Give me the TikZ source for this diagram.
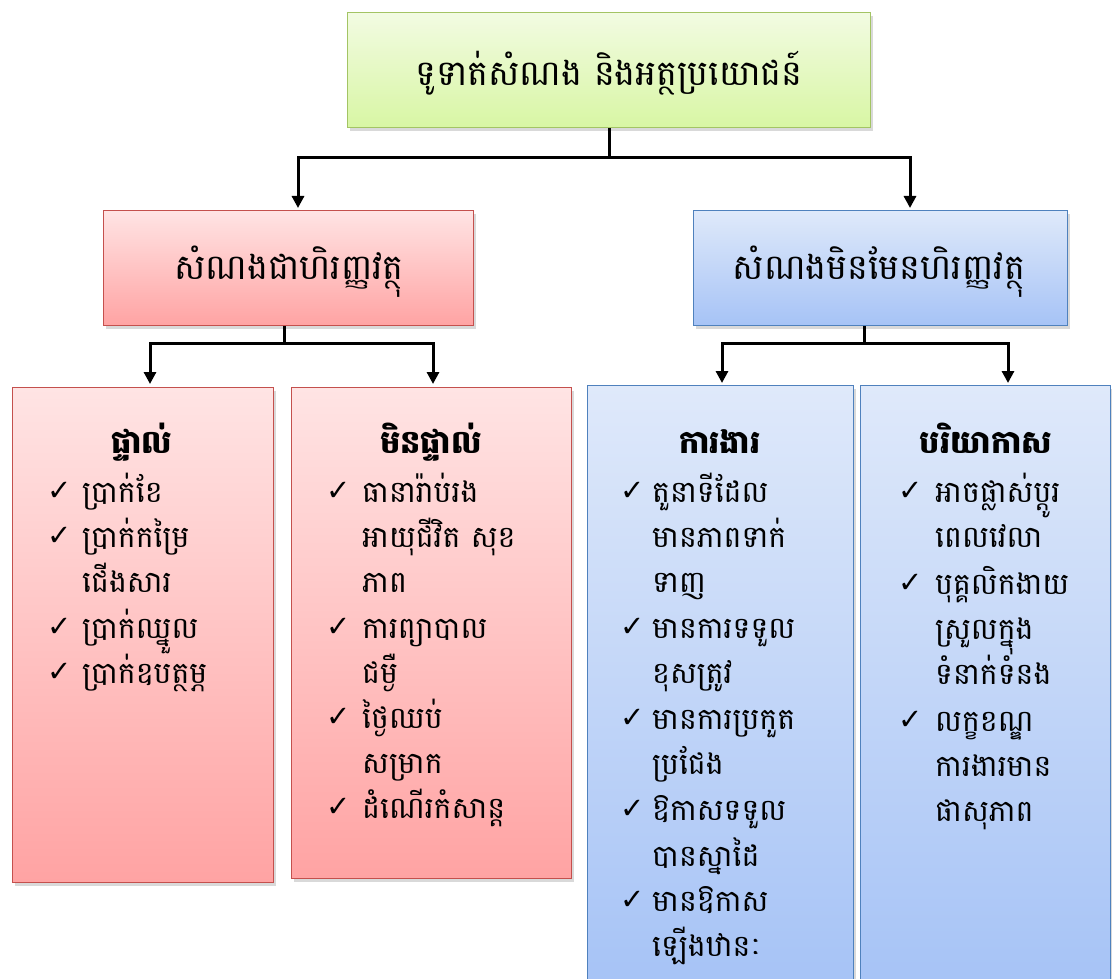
\documentclass[tikz,border=0pt]{standalone}
\usepackage{fontspec}
\newfontfamily\km[Script=Khmer]{Battambang}
\newfontfamily\sym{DejaVu Sans}
\usetikzlibrary{arrows.meta,shadows}
\definecolor{gtop}{HTML}{F2FBE2}
\definecolor{gbot}{HTML}{D8F6A4}
\definecolor{gbrd}{HTML}{A3C464}
\definecolor{rtop}{HTML}{FFE4E4}
\definecolor{rbot}{HTML}{FFA3A3}
\definecolor{rbrd}{HTML}{C4504D}
\definecolor{btop}{HTML}{DFE9FA}
\definecolor{bbot}{HTML}{A6C3F6}
\definecolor{bbrd}{HTML}{4F81BD}
\tikzset{
  box/.style={draw, line width=1.2pt, inner sep=0, anchor=north west,
    drop shadow={shadow xshift=2pt, shadow yshift=-3pt, opacity=0.3}},
  gbox/.style={box, draw=gbrd, top color=gtop, bottom color=gbot},
  rbox/.style={box, draw=rbrd, top color=rtop, bottom color=rbot},
  bbox/.style={box, draw=bbrd, top color=btop, bottom color=bbot},
  ttl/.style={anchor=base, inner sep=0, font=\km\fontsize{35}{42}\selectfont},
  hdr/.style={anchor=base, inner sep=0, font=\km\bfseries\fontsize{32}{38}\selectfont},
  itm/.style={anchor=base west, inner sep=0, font=\km\fontsize{30}{36}\selectfont},
  chk/.style={anchor=base west, inner sep=0, font=\sym\fontsize{29}{32}\selectfont},
  conn/.style={line width=3pt, black},
  arr/.style={conn, -{Triangle[length=12pt,width=12pt]}}
}
\begin{document}
\begin{tikzpicture}[x=1pt,y=-1pt]
\useasboundingbox (0,0) rectangle (1112,979);
% boxes
\node[gbox, minimum width=523pt, minimum height=115pt] (top) at (347,12) {};
\node[rbox, minimum width=370pt, minimum height=115pt] (red) at (103,210) {};
\node[bbox, minimum width=374pt, minimum height=115pt] (blue) at (693,210) {};
\node[rbox, minimum width=261pt, minimum height=495pt] (b1) at (12,387) {};
\node[rbox, minimum width=280pt, minimum height=491pt] (b2) at (291,387) {};
\node[bbox, minimum width=266pt, minimum height=600pt] (b3) at (587,385) {};
\node[bbox, minimum width=250pt, minimum height=600pt] (b4) at (860,385) {};
% titles
\node[ttl] (ttop) at (609,86) {ទូទាត់សំណង និងអត្ថប្រយោជន៍};
\node[ttl] (tred) at (289,279) {សំណងជាហិរញ្ញវត្ថុ};
\node[ttl] (tblue) at (879,279) {សំណងមិនមែនហិរញ្ញវត្ថុ};
% connectors
\coordinate (j0) at (top.south |- 0,158);
\coordinate (a1) at (298,208);
\coordinate (a2) at (910,208);
\draw[conn] (top.south) -- (j0);
\draw[arr] (j0) -| (a1);
\draw[arr] (j0) -| (a2);
\coordinate (j1) at (284,343);
\coordinate (a3) at (150,384);
\coordinate (a4) at (433,384);
\draw[conn] (j1 |- red.south) -- (j1);
\draw[arr] (j1) -| (a3);
\draw[arr] (j1) -| (a4);
\coordinate (j2) at (864,343);
\coordinate (a5) at (722,383);
\coordinate (a6) at (1008,383);
\draw[conn] (j2 |- blue.south) -- (j2);
\draw[arr] (j2) -| (a5);
\draw[arr] (j2) -| (a6);
% box 1
\node[hdr] (h1) at (142,453) {ផ្ទាល់};
\node[chk] (c11) at (47,500) {✓};
\node[itm] (t11) at (82,502) {ប្រាក់ខែ};
\node[chk] (c12) at (47,545) {✓};
\node[itm] (t12) at (82,547) {ប្រាក់កម្រៃ};
\node[itm] (t13) at (82,592) {ជើងសារ};
\node[chk] (c14) at (47,636) {✓};
\node[itm] (t14) at (82,638) {ប្រាក់ឈ្នួល};
\node[chk] (c15) at (47,681) {✓};
\node[itm] (t15) at (82,683) {ប្រាក់ឧបត្ថម្ភ};
% box 2
\node[hdr] (h2) at (431,453) {មិនផ្ទាល់};
\node[chk] (c21) at (326,500) {✓};
\node[itm] (t21) at (362,502) {ធានារ៉ាប់រង};
\node[itm] (t22) at (362,547) {អាយុជីវិត សុខ};
\node[itm] (t23) at (362,592) {ភាព};
\node[chk] (c24) at (326,636) {✓};
\node[itm] (t24) at (362,638) {ការព្យាបាល};
\node[itm] (t25) at (362,683) {ជម្ងឺ};
\node[chk] (c26) at (326,726) {✓};
\node[itm] (t26) at (362,728) {ថ្ងៃឈប់};
\node[itm] (t27) at (362,773) {សម្រាក};
\node[chk] (c28) at (326,816) {✓};
\node[itm] (t28) at (362,818) {ដំណើរកំសាន្ត};
% box 3
\node[hdr] (h3) at (720,453) {ការងារ};
\node[chk] (c31) at (620,500) {✓};
\node[itm] (t31) at (652,502) {តួនាទីដែល};
\node[itm] (t32) at (652,547) {មានភាពទាក់};
\node[itm] (t33) at (652,592) {ទាញ};
\node[chk] (c34) at (620,636) {✓};
\node[itm] (t34) at (652,638) {មានការទទួល};
\node[itm] (t35) at (652,683) {ខុសត្រូវ};
\node[chk] (c36) at (620,727) {✓};
\node[itm] (t36) at (652,729) {មានការប្រកួត};
\node[itm] (t37) at (652,774) {ប្រជែង};
\node[chk] (c38) at (620,818) {✓};
\node[itm] (t38) at (652,820) {ឱកាសទទួល};
\node[itm] (t39) at (652,866) {បានស្នាដៃ};
\node[chk] (c310) at (620,909) {✓};
\node[itm] (t310) at (652,911) {មានឱកាស};
\node[itm] (t311) at (652,956) {ឡើងឋានៈ};
% box 4
\node[hdr] (h4) at (986,453) {បរិយាកាស};
\node[chk] (c41) at (898,500) {✓};
\node[itm] (t41) at (935,502) {អាចផ្លាស់ប្តូរ};
\node[itm] (t42) at (935,547) {ពេលវេលា};
\node[chk] (c43) at (898,592) {✓};
\node[itm] (t43) at (935,594) {បុគ្គលិកងាយ};
\node[itm] (t44) at (935,639) {ស្រួលក្នុង};
\node[itm] (t45) at (935,684) {ទំនាក់ទំនង};
\node[chk] (c46) at (898,729) {✓};
\node[itm] (t46) at (935,731) {លក្ខខណ្ឌ};
\node[itm] (t47) at (935,776) {ការងារមាន};
\node[itm] (t48) at (935,821) {ផាសុភាព};
\end{tikzpicture}
\end{document}
